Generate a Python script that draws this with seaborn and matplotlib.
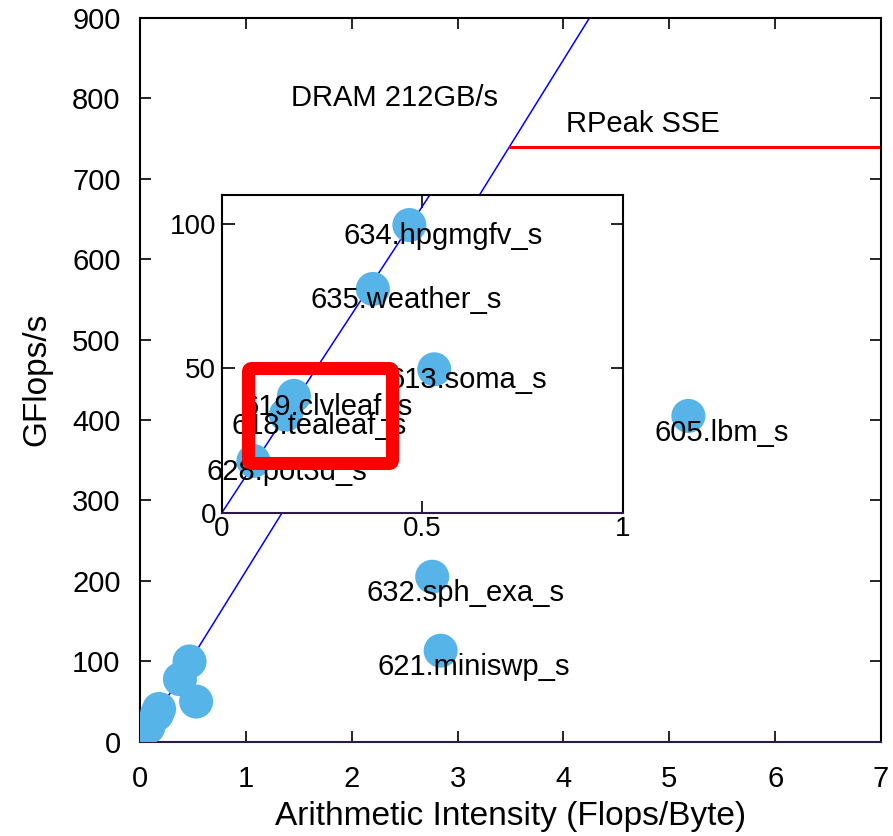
import matplotlib
matplotlib.use("Agg")
import matplotlib.pyplot as plt
import seaborn as sns
import pandas as pd
from matplotlib.patches import FancyBboxPatch

sns.set_style("ticks")
plt.rcParams['font.family'] = ['Liberation Sans', 'DejaVu Sans']
plt.rcParams['text.color'] = 'black'
plt.rcParams['axes.labelcolor'] = 'black'
plt.rcParams['xtick.color'] = 'black'
plt.rcParams['ytick.color'] = 'black'

# roofline parameters
dram_bw = 212      # GB/s
rpeak = 740        # GFlops/s (SSE)

benchmarks = ["605.lbm_s", "632.sph_exa_s", "621.miniswp_s", "634.hpgmgfv_s",
              "635.weather_s", "613.soma_s", "619.clvleaf_s", "618.tealeaf_s",
              "628.pot3d_s"]
intensity = [5.18, 2.76, 2.84, 0.468, 0.377, 0.53, 0.18, 0.16, 0.079]
gflops = [405, 205, 113, 99.6, 77.5, 49.7, 40.5, 34, 18]
in_inset = [False, False, False, True, True, True, True, True, True]

df = pd.DataFrame({"bench": benchmarks, "ai": intensity, "gf": gflops, "inset": in_inset})

point_color = "#56b4e9"
axis_purple = "#2e1a47"
fs = 21


def style_axes(ax):
    for s in ["left", "top", "right"]:
        ax.spines[s].set_color("black")
        ax.spines[s].set_linewidth(1.5)
    ax.spines["bottom"].set_color(axis_purple)
    ax.spines["bottom"].set_linewidth(1.5)
    ax.tick_params(direction="in", top=True, right=True, length=8, width=1.2,
                   labelsize=fs, pad=14, colors="black")
    ax.tick_params(axis="x", pad=17)
    ax.grid(False)


fig = plt.figure(figsize=(8.93, 8.36), dpi=100)
ax = fig.add_axes([0.1568, 0.1130, 0.8298, 0.8655])

# roofline
x_knee = rpeak / dram_bw
ax.plot([0, 950 / dram_bw], [0, 950], color="blue", lw=1.1, zorder=1)
ax.plot([x_knee, 7], [rpeak, rpeak], color="red", lw=2.2, zorder=1)

sns.scatterplot(data=df, x="ai", y="gf", ax=ax, s=600, color=point_color,
                edgecolor="none", legend=False, zorder=3)

for _, r in df[~df["inset"]].iterrows():
    ax.annotate(r["bench"], (r["ai"], r["gf"]), xytext=(24, -12),
                textcoords="offset points", ha="center", va="center", fontsize=fs)

ax.text(2.40, 800, "DRAM 212GB/s", ha="center", va="center", fontsize=fs)
ax.text(4.75, 768, "RPeak SSE", ha="center", va="center", fontsize=fs)

ax.set_xlim(0, 7)
ax.set_ylim(0, 900)
ax.set_xticks(range(0, 8))
ax.set_yticks(range(0, 1000, 100))
ax.set_xlabel("Arithmetic Intensity (Flops/Byte)", fontsize=24, labelpad=6)
ax.set_ylabel("GFlops/s", fontsize=24, labelpad=14)
style_axes(ax)

# inset zoom on low intensity region
axin = fig.add_axes([0.2483, 0.3864, 0.4490, 0.3804])
axin.set_facecolor("white")
axin.plot([0, 120 / dram_bw], [0, 120], color="blue", lw=1.1, zorder=1)
sub = df[df["inset"]]
sns.scatterplot(data=sub, x="ai", y="gf", ax=axin, s=600, color=point_color,
                edgecolor="none", legend=False, zorder=3, clip_on=False)
for _, r in sub.iterrows():
    axin.annotate(r["bench"], (r["ai"], r["gf"]), xytext=(24, -8),
                  textcoords="offset points", ha="center", va="center", fontsize=fs)
axin.set_xlim(0, 1)
axin.set_ylim(0, 110)
axin.set_xticks([0, 0.5, 1])
axin.set_xticklabels(["0", "0.5", "1"])
axin.set_yticks([0, 50, 100])
axin.set_xlabel("")
axin.set_ylabel("")
style_axes(axin)
axin.tick_params(labelsize=20, length=9, pad=4)
axin.tick_params(axis="x", pad=2)

# red highlight box
fig.patches.append(FancyBboxPatch((248.5 / 893, 1 - 463.5 / 836), 144 / 893, 95 / 836,
                                  boxstyle="round,pad=0,rounding_size=0.004",
                                  transform=fig.transFigure, fill=False, edgecolor="red",
                                  linewidth=9.4, joinstyle="round", zorder=10))

plt.savefig("out.png", dpi=100)
